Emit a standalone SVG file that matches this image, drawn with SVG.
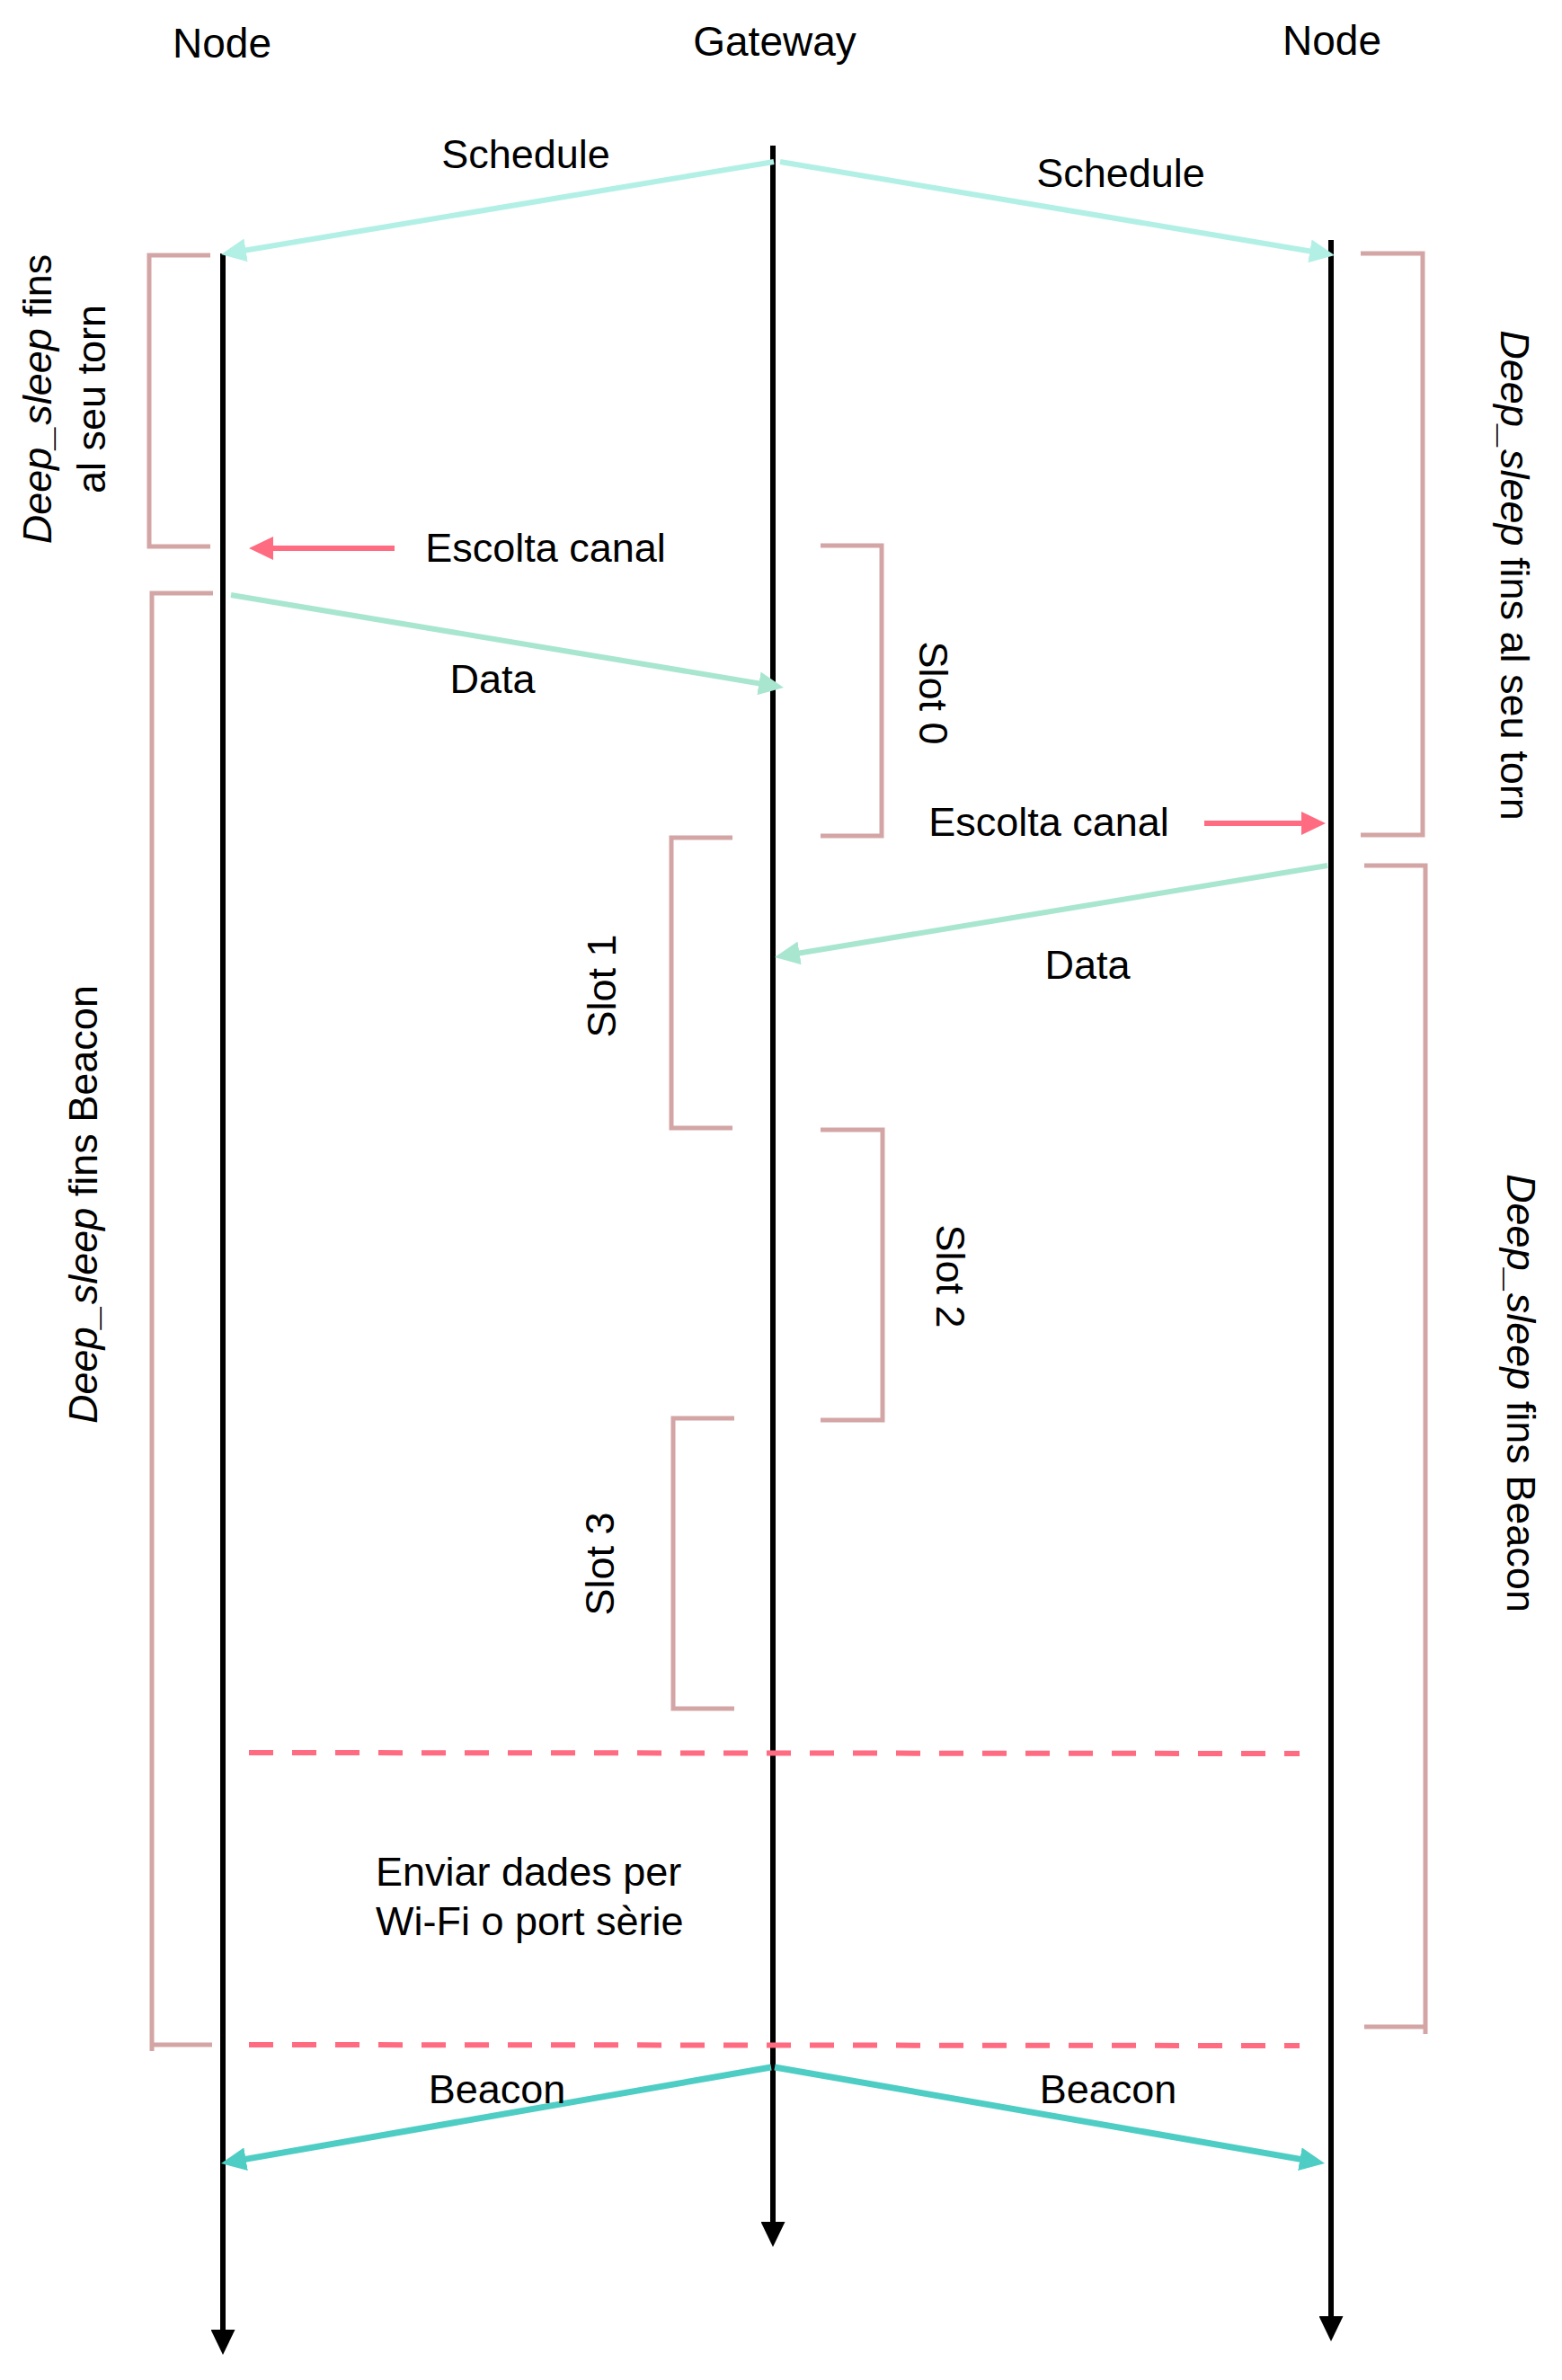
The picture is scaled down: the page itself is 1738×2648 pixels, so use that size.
<svg xmlns="http://www.w3.org/2000/svg" width="1738" height="2648" viewBox="0 0 1738 2648">
<style>
text{font-family:"Liberation Sans",Arial,Helvetica,sans-serif;font-size:45px;fill:#000}
.hdr{font-size:46px;text-anchor:middle}
.mid{text-anchor:middle}
.it{font-style:italic}
.life{stroke:#000;stroke-width:6;fill:none}
.br{stroke:#D4A5A5;stroke-width:5;fill:none}
.sch{stroke:#B2F0E6;stroke-width:6;fill:none}
.dat{stroke:#A8E6D0;stroke-width:6;fill:none}
.bea{stroke:#4ECDC4;stroke-width:7;fill:none}
.lis{stroke:#FF6B81;stroke-width:6;fill:none}
.dash{stroke:#FF6B81;stroke-width:6;fill:none;stroke-dasharray:27 21}
</style>
<defs>
<marker id="aBlk" viewBox="0 0 28 27" refX="6" refY="13.5" markerWidth="28" markerHeight="27" markerUnits="userSpaceOnUse" orient="auto"><path d="M0,0 L28,13.5 L0,27 z" fill="#000"/></marker>
<marker id="aSch" viewBox="0 0 28 26" refX="8" refY="13" markerWidth="28" markerHeight="26" markerUnits="userSpaceOnUse" orient="auto"><path d="M0,0 L28,13 L0,26 z" fill="#B2F0E6"/></marker>
<marker id="aDat" viewBox="0 0 28 26" refX="8" refY="13" markerWidth="28" markerHeight="26" markerUnits="userSpaceOnUse" orient="auto"><path d="M0,0 L28,13 L0,26 z" fill="#A8E6D0"/></marker>
<marker id="aBea" viewBox="0 0 28 26" refX="8" refY="13" markerWidth="28" markerHeight="26" markerUnits="userSpaceOnUse" orient="auto"><path d="M0,0 L28,13 L0,26 z" fill="#4ECDC4"/></marker>
<marker id="aLis" viewBox="0 0 27 26" refX="6" refY="13" markerWidth="27" markerHeight="26" markerUnits="userSpaceOnUse" orient="auto"><path d="M0,0 L27,13 L0,26 z" fill="#FF6B81"/></marker>
</defs>
<rect width="1738" height="2648" fill="#fff"/>

<g id="node-left">
<text class="hdr" x="247" y="64">Node</text>
<line class="life" x1="248" y1="282" x2="248" y2="2598" marker-end="url(#aBlk)"/>
</g>
<g id="gateway">
<text class="hdr" x="862" y="62">Gateway</text>
<line class="life" x1="860" y1="162" x2="860" y2="2478" marker-end="url(#aBlk)"/>
</g>
<g id="node-right">
<text class="hdr" x="1482" y="61">Node</text>
<line class="life" x1="1481" y1="267" x2="1481" y2="2583" marker-end="url(#aBlk)"/>
</g>

<g id="brackets">
<path class="br" d="M234,284 H166 V608 H234"/>
<path class="br" d="M237,660 H169 V2282 M169,2275 H236"/>
<path class="br" d="M1514,282 H1583 V929 H1514"/>
<path class="br" d="M1518,963 H1586 V2263 M1586,2255 H1518"/>
<path id="slot0" class="br" d="M913,607 H981 V930 H913"/>
<path id="slot1" class="br" d="M815,932 H747 V1255 H815"/>
<path id="slot2" class="br" d="M913,1257 H982 V1580 H913"/>
<path id="slot3" class="br" d="M817,1578 H749 V1901 H817"/>
</g>

<g id="connectors">
<line class="sch" x1="861" y1="180" x2="265.7" y2="279.7" marker-end="url(#aSch)"/>
<line class="sch" x1="868" y1="180" x2="1465.3" y2="280.7" marker-end="url(#aSch)"/>
<line class="lis" x1="439" y1="610" x2="298" y2="610" marker-end="url(#aLis)"/>
<line class="dat" x1="257" y1="662" x2="852.3" y2="761.7" marker-end="url(#aDat)"/>
<line class="lis" x1="1340" y1="916" x2="1454" y2="916" marker-end="url(#aLis)"/>
<line class="dat" x1="1477" y1="963" x2="881.7" y2="1061.7" marker-end="url(#aDat)"/>
<line class="dash" x1="277" y1="1950" x2="1446" y2="1951"/>
<line class="dash" x1="277" y1="2275" x2="1446" y2="2276"/>
<line class="bea" x1="858" y1="2300" x2="265.7" y2="2403.6" marker-end="url(#aBea)"/>
<line class="bea" x1="862" y1="2300" x2="1454.3" y2="2403.6" marker-end="url(#aBea)"/>
</g>

<g id="labels">
<text class="mid" x="585" y="187">Schedule</text>
<text class="mid" x="1247" y="208">Schedule</text>
<text class="mid" x="607" y="625">Escolta canal</text>
<text class="mid" x="548" y="771">Data</text>
<text class="mid" x="1167" y="930">Escolta canal</text>
<text class="mid" x="1210" y="1089">Data</text>
<text x="418" y="2098">Enviar dades per</text>
<text x="418" y="2153">Wi-Fi o port sèrie</text>
<text class="mid" x="553" y="2340">Beacon</text>
<text class="mid" x="1233" y="2340">Beacon</text>

<text class="mid" transform="translate(57,444) rotate(-90)"><tspan class="it">Deep_sleep</tspan> fins</text>
<text class="mid" transform="translate(117,444) rotate(-90)">al seu torn</text>
<text class="mid" transform="translate(108,1340) rotate(-90)"><tspan class="it">Deep_sleep</tspan> fins Beacon</text>
<text class="mid" transform="translate(1670,640) rotate(90)"><tspan class="it">Deep_sleep</tspan> fins al seu torn</text>
<text class="mid" transform="translate(1677,1550) rotate(90)"><tspan class="it">Deep_sleep</tspan> fins Beacon</text>
<text class="mid" transform="translate(1023,771) rotate(90)">Slot 0</text>
<text class="mid" transform="translate(685,1097) rotate(-90)">Slot 1</text>
<text class="mid" transform="translate(1042,1420) rotate(90)">Slot 2</text>
<text class="mid" transform="translate(683,1740) rotate(-90)">Slot 3</text>
</g>
</svg>
